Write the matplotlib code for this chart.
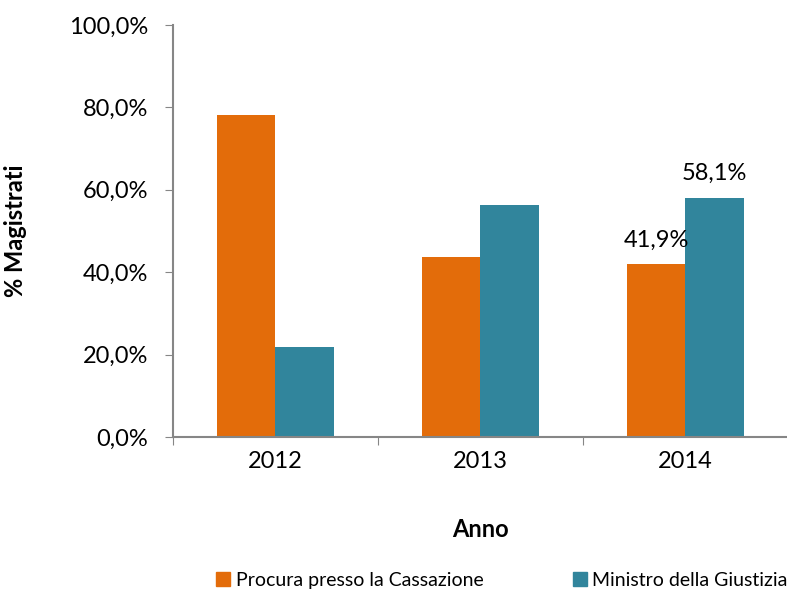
import matplotlib.pyplot as plt
from matplotlib.patches import Patch
import numpy as np

plt.rcParams['font.family'] = ['Lato', 'DejaVu Sans']

anni = ['2012', '2013', '2014']
procura = [78.2, 43.7, 41.9]
ministro = [21.8, 56.3, 58.1]
etichette_procura = [None, None, '41,9%']
etichette_ministro = [None, None, '58,1%']

c_or = '#E36C0A'
c_te = '#31859C'
grigio = '#868686'

fig = plt.figure(figsize=(7.87, 5.92), dpi=100)
ax = fig.add_axes([0.2198, 0.2618, 0.7814, 0.696])

x = np.arange(len(anni))
w = 0.285
b1 = ax.bar(x - w / 2, procura, w, color=c_or)
b2 = ax.bar(x + w / 2, ministro, w, color=c_te)

for bars, labs in ((b1, etichette_procura), (b2, etichette_ministro)):
    for r, lab in zip(bars, labs):
        if lab:
            ax.annotate(lab, (r.get_x() + r.get_width() / 2, r.get_height()),
                        xytext=(0, 10), textcoords='offset points',
                        ha='center', va='bottom', fontsize=17)

ax.set_xlim(-0.5, 2.5)
ax.set_ylim(0, 100)
ax.set_yticks(np.arange(0, 101, 20))
ax.set_yticklabels([f"{v:.1f}%".replace('.', ',') for v in np.arange(0, 101, 20)])
ax.set_xticks([-0.5, 0.5, 1.5, 2.5], minor=False)
ax.set_xticklabels([])
ax.set_xticks(x, minor=True)
ax.set_xticklabels(anni, minor=True)
ax.tick_params(axis='x', which='minor', length=0, labelsize=17, pad=10)
ax.tick_params(axis='x', which='major', length=6, color=grigio)
ax.tick_params(axis='y', length=6, color=grigio, labelsize=17, pad=12)

for s in ('top', 'right'):
    ax.spines[s].set_visible(False)
for s in ('left', 'bottom'):
    ax.spines[s].set_color(grigio)
    ax.spines[s].set_linewidth(1.5)

ax.set_xlabel('Anno', fontsize=17, fontweight='bold', labelpad=33)
ax.set_ylabel('% Magistrati', fontsize=17, fontweight='bold', labelpad=30)

handles = [Patch(color=c_or, label='Procura presso la Cassazione'),
           Patch(color=c_te, label='Ministro della Giustizia')]
fig.legend(handles=handles, loc='center', bbox_to_anchor=(0.638, 0.02), ncol=2,
           frameon=False, fontsize=14, handlelength=0.7, handleheight=0.7,
           handletextpad=0.3, columnspacing=4.6, borderaxespad=0, borderpad=0)

fig.savefig('out.png', dpi=100)
